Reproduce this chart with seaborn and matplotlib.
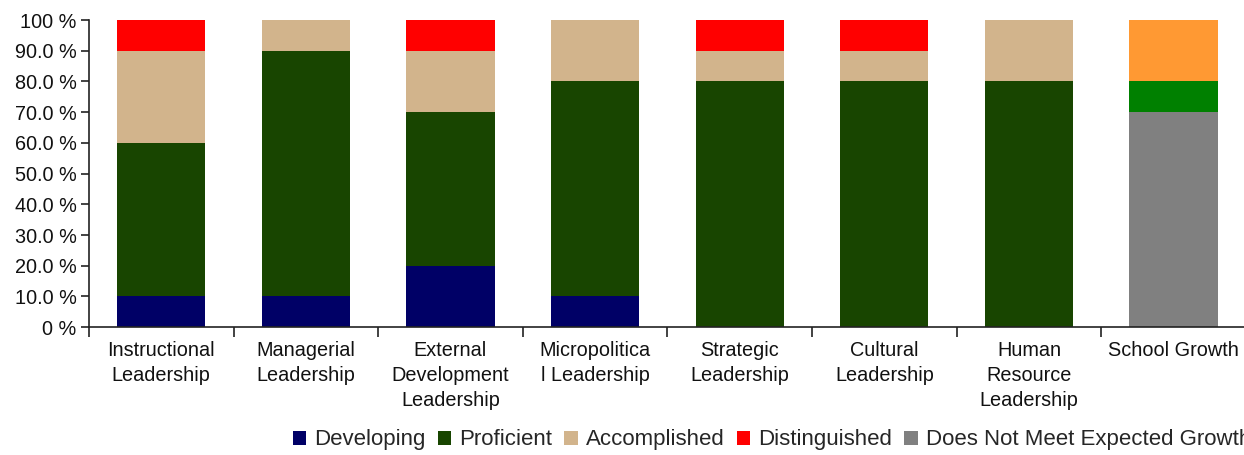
import numpy as np
import pandas as pd
import matplotlib
matplotlib.use("Agg")
import matplotlib.pyplot as plt
from matplotlib.patches import Patch
from matplotlib.ticker import FixedLocator
import seaborn as sns

# categories and values (percent)
categories = ["Instructional\nLeadership", "Managerial\nLeadership",
              "External\nDevelopment\nLeadership", "Micropolitica\nl Leadership",
              "Strategic\nLeadership", "Cultural\nLeadership",
              "Human\nResource\nLeadership", "School Growth"]
developing = [10, 10, 20, 10, 0, 0, 0, 0]
proficient = [50, 80, 50, 70, 80, 80, 80, 0]
accomplished = [30, 10, 20, 20, 10, 10, 20, 0]
distinguished = [10, 0, 10, 0, 10, 10, 0, 0]
does_not_meet = [0, 0, 0, 0, 0, 0, 0, 70]
meets = [0, 0, 0, 0, 0, 0, 0, 10]
exceeds = [0, 0, 0, 0, 0, 0, 0, 20]

series_names = ["Developing", "Proficient", "Accomplished", "Distinguished",
                "Does Not Meet Expected Growth", "Meets Expected Growth",
                "Exceeds Expected Growth"]
series_vals = [developing, proficient, accomplished, distinguished,
               does_not_meet, meets, exceeds]
colors = ["#000066", "#184500", "#D2B48C", "#FF0000", "#808080", "#008000", "#FF9933"]

ytick_vals = [0, 10, 20, 30, 40, 50, 60, 70, 80, 90, 100]
ytick_labels = ["0 %", "10.0 %", "20.0 %", "30.0 %", "40.0 %", "50.0 %",
                "60.0 %", "70.0 %", "80.0 %", "90.0 %", "100 %"]

sns.set_theme(style="white")
plt.rcParams["font.family"] = ["Liberation Sans", "DejaVu Sans"]

df = pd.DataFrame(dict(zip(series_names, series_vals)))
df["Category"] = categories
cum = df[series_names].cumsum(axis=1)
cum["Category"] = categories

fig = plt.figure(figsize=(12.44, 4.55), dpi=100)
ax = fig.add_axes([0.0715, 0.281, 0.93, 0.675])

# draw cumulative layers from the top down so each stacks on the one below
for name, col in reversed(list(zip(series_names, colors))):
    sns.barplot(data=cum, x="Category", y=name, color=col, width=0.61,
                saturation=1, ax=ax, linewidth=0)

ax.set_ylim(0, 100)
ax.set_xlim(-0.5, 7.5)
ax.set_yticks(ytick_vals)
ax.set_yticklabels(ytick_labels, fontsize=14.3, color="#111111")
ax.set_xticklabels(categories, fontsize=14.3, color="#111111", linespacing=1.4)
ax.set_xlabel("")
ax.set_ylabel("")
ax.xaxis.set_minor_locator(FixedLocator(np.arange(-0.5, 8, 1)))
ax.tick_params(axis="x", which="major", length=0, pad=10)
ax.tick_params(axis="x", which="minor", length=7, width=1.2, color="#222222", direction="out", bottom=True)
ax.tick_params(axis="y", length=6, width=1.2, color="#222222", direction="out", left=True, pad=3)
for s in ["top", "right"]:
    ax.spines[s].set_visible(False)
for s in ["left", "bottom"]:
    ax.spines[s].set_color("#222222")
    ax.spines[s].set_linewidth(1.2)

handles = [Patch(facecolor=c, edgecolor="none", label=n) for n, c in zip(series_names, colors)]
fig.legend(handles=handles, loc="center left", bbox_to_anchor=(0.2355, 0.033),
           ncol=7, frameon=False, fontsize=16, handlelength=0.6, handleheight=0.6,
           handletextpad=0.36, columnspacing=0.55, borderaxespad=0, borderpad=0)

fig.savefig("out.png", dpi=100)
